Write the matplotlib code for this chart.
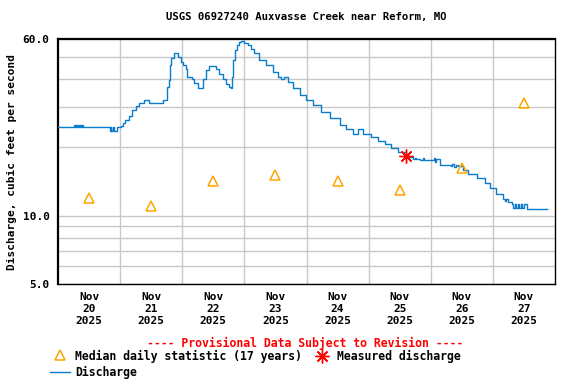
import matplotlib
matplotlib.use("Agg")
import matplotlib.pyplot as plt
import matplotlib.ticker as mticker
from matplotlib.lines import Line2D
import numpy as np
import pandas as pd

# discharge, hours after 2025-11-20 00:00 and cfs
q_hours = [0.0, 6.0, 6.3, 6.6, 7.0, 7.3, 7.7, 8.0, 8.4, 8.8,
           9.2, 9.6, 20.2, 20.4, 20.6, 21.3, 21.5, 22.6, 22.8, 24.3,
           25.2, 25.9, 27.5, 28.6, 30.1, 31.1, 33.3, 35.2, 40.4, 42.1,
           42.7, 43.2, 43.7, 44.9, 46.5, 47.5, 48.4, 49.4, 50.0, 51.7,
           52.6, 53.9, 55.6, 56.1, 57.2, 58.2, 60.0, 61.0, 62.3, 63.6,
           64.9, 66.2, 66.8, 67.2, 67.7, 68.5, 69.3, 69.8, 70.7, 72.0,
           73.3, 74.6, 75.9, 77.8, 80.4, 82.9, 84.9, 86.2, 87.5, 88.8,
           90.7, 93.3, 95.9, 98.4, 101.7, 104.9, 108.8, 111.4, 113.9, 115.9,
           117.8, 121.0, 123.6, 126.2, 128.8, 131.3, 134.3, 137.1, 138.0, 138.4,
           139.7, 141.0, 141.4, 142.5, 144.9, 145.2, 145.6, 146.1, 147.5, 152.0,
           152.4, 153.0, 153.6, 154.6, 156.6, 158.5, 161.7, 164.9, 166.8, 169.4,
           172.0, 172.8, 173.2, 173.8, 175.2, 175.8, 176.4, 177.0, 177.6, 178.2,
           178.8, 179.4, 180.0, 181.0, 188.8]
q_cfs = [24.5, 24.5, 25.0, 24.5, 25.0, 24.5, 25.0, 24.5, 25.0, 24.5,
         25.0, 24.5, 23.6, 24.5, 23.6, 24.5, 23.6, 24.5, 24.5, 24.9,
         25.5, 26.4, 27.5, 29.2, 30.4, 31.3, 32.2, 31.3, 32.2, 37.0,
         39.6, 46.1, 49.3, 51.9, 50.1, 47.6, 46.1, 44.1, 40.9, 39.9,
         38.3, 36.4, 36.4, 39.9, 43.8, 45.6, 45.6, 44.1, 42.1, 39.9,
         37.9, 36.8, 36.4, 40.9, 48.5, 53.6, 56.4, 58.4, 58.8, 57.8,
         56.4, 54.0, 51.9, 48.5, 46.1, 43.1, 40.9, 39.9, 40.7, 38.9,
         36.4, 34.0, 32.2, 30.6, 28.7, 26.9, 25.1, 24.0, 23.0, 24.0,
         23.0, 22.3, 21.4, 20.7, 19.8, 19.1, 18.1, 17.7, 17.9, 17.7,
         17.6, 17.9, 17.6, 17.6, 17.5, 18.0, 17.3, 17.8, 16.7, 16.5,
         16.9, 16.4, 16.8, 16.5, 15.9, 15.3, 14.6, 13.9, 13.2, 12.5,
         11.8, 11.6, 11.8, 11.5, 11.3, 10.8, 11.3, 10.8, 11.3, 10.8,
         11.3, 10.8, 11.2, 10.7, 10.7]

# median daily statistic, one per day at noon
med_days = ["2025-11-20", "2025-11-21", "2025-11-22", "2025-11-23",
            "2025-11-24", "2025-11-25", "2025-11-26", "2025-11-27"]
med_cfs = [12.0, 11.0, 14.2, 15.1, 14.2, 13.0, 16.2, 31.3]

# measured discharge
meas_time = ["2025-11-25 14:15"]
meas_cfs = [18.3]

start = pd.Timestamp("2025-11-20 00:00")
q_time = start + pd.to_timedelta(q_hours, unit="h")
med_time = pd.to_datetime(med_days) + pd.Timedelta(hours=12)

mono = "DejaVu Sans Mono"
blue = "#0a7ccc"
orange = "#ffa500"

fig = plt.figure(figsize=(5.76, 3.84), dpi=100)
ax = fig.add_axes([58/576, 1-284/384, 497/576, 245/384])

ax.plot(q_time, q_cfs, color=blue, lw=1.0, drawstyle="steps-post", zorder=3)
ax.plot(med_time, med_cfs, ls="none", marker="^", ms=7.5, mfc="none", mec=orange, mew=1.1, zorder=4)
ax.plot(pd.to_datetime(meas_time), meas_cfs, ls="none", marker=(8, 2, 0), ms=10,
        mec="red", mew=1.0, zorder=5)

ax.set_yscale("log")
ax.set_ylim(5, 60)
ax.set_xlim(start, start + pd.Timedelta(days=8))

# gridlines at midnight, labels at noon
ax.set_xticks(start + pd.to_timedelta(np.arange(1, 8), unit="D"))
ax.set_xticklabels([])
ax.set_xticks(med_time, minor=True)
ax.set_xticklabels([d.strftime("%b\n%d\n%Y") for d in med_time], minor=True,
                   fontfamily=mono, fontweight="bold", fontsize=8, linespacing=1.25)
ax.tick_params(axis="x", which="both", length=0, pad=6)
ax.grid(axis="x", which="major", color="#c8c8c8", lw=1)

ax.yaxis.set_major_locator(mticker.FixedLocator([5, 10, 60]))
ax.yaxis.set_major_formatter(mticker.FormatStrFormatter("%.1f"))
ax.yaxis.set_minor_locator(mticker.FixedLocator([6, 7, 8, 9, 20, 30, 40, 50]))
ax.yaxis.set_minor_formatter(mticker.NullFormatter())
ax.tick_params(axis="y", which="both", length=0, pad=6)
for lab in ax.get_yticklabels():
    lab.set_fontfamily(mono)
    lab.set_fontweight("bold")
    lab.set_fontsize(8)
ax.grid(axis="y", which="both", color="#c8c8c8", lw=1)
ax.set_axisbelow(True)

for side in ["left", "top"]:
    ax.spines[side].set_linewidth(1.6)
for side in ["right", "bottom"]:
    ax.spines[side].set_linewidth(1.0)

ax.set_ylabel("Discharge, cubic feet per second", fontfamily=mono, fontweight="bold",
              fontsize=8, labelpad=4)
ax.set_title("USGS 06927240 Auxvasse Creek near Reform, MO", fontfamily=mono,
             fontweight="bold", fontsize=7.7, pad=14)

# legend area
fig.text(305/576, 1-343/384, "---- Provisional Data Subject to Revision ----", color="red",
         fontfamily=mono, fontweight="bold", fontsize=8.3, ha="center", va="center")
fig.add_artist(Line2D([60/576], [1-355/384], marker="^", ms=7.5, mfc="none", mec=orange,
                      mew=1.1, ls="none", transform=fig.transFigure))
fig.text(75/576, 1-356/384, "Median daily statistic (17 years)", fontfamily=mono,
         fontweight="bold", fontsize=8.3, va="center")
fig.add_artist(Line2D([322/576], [1-356/384], marker=(8, 2, 0), ms=10, mec="red", mew=1.0,
                      ls="none", transform=fig.transFigure))
fig.text(337/576, 1-356/384, "Measured discharge", fontfamily=mono, fontweight="bold",
         fontsize=8.3, va="center")
fig.add_artist(Line2D([50/576, 70/576], [1-372/384, 1-372/384], color=blue, lw=1.0,
                      transform=fig.transFigure))
fig.text(75/576, 1-372/384, "Discharge", fontfamily=mono, fontweight="bold", fontsize=8.3,
         va="center")

fig.savefig("out.png", dpi=100)
